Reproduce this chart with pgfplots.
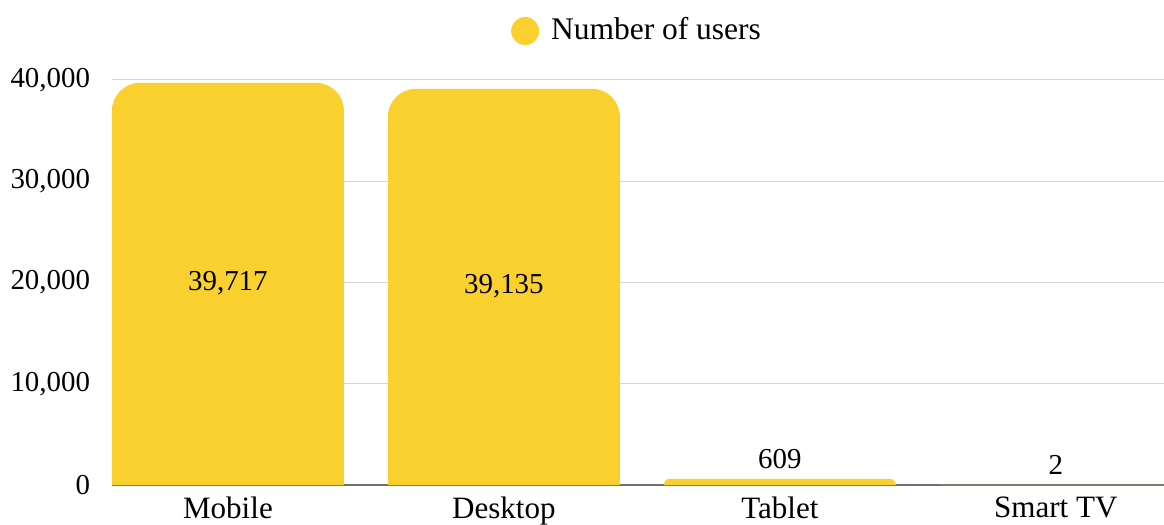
\documentclass[border=0pt]{standalone}
\usepackage{fontspec}
\setmainfont{Liberation Serif}
\usepackage{pgfplots}
\pgfplotsset{compat=1.18}
\definecolor{baryellow}{HTML}{F9D02D}
\definecolor{gridgray}{HTML}{D6D6D6}
\definecolor{axisgray}{HTML}{6F6F6F}

% bars are drawn by \pgfpathrectangle{corner}{size}: give narrow ones rounded tops
\makeatletter
\newdimen\rbxa \newdimen\rbya \newdimen\rbxb \newdimen\rbyb
\newdimen\rbr \newdimen\rbk \newdimen\rbt
\let\origpathrectangle\pgfpathrectangle
\def\roundtoprect#1#2{%
  \pgf@process{#1}\rbxa=\pgf@x \rbya=\pgf@y
  \pgf@process{#2}\rbxb=\pgf@x \rbyb=\pgf@y
  \rbt=\rbxb \ifdim\rbt<0pt \rbt=-\rbt \fi
  \ifdim\rbt<150bp
    \advance\rbxb by \rbxa \advance\rbyb by \rbya
    \ifdim\rbxa>\rbxb \rbt=\rbxa \rbxa=\rbxb \rbxb=\rbt \fi
    \ifdim\rbya>\rbyb \rbt=\rbya \rbya=\rbyb \rbyb=\rbt \fi
    \rbr=14bp
    \rbt=\rbyb \advance\rbt by -\rbya
    \ifdim\rbt<\rbr \rbr=\rbt \fi
    \rbk=0.4477\rbr
    \pgfpathmoveto{\pgfqpoint{\rbxa}{\rbya}}%
    \pgfpathlineto{\pgfqpoint{\rbxa}{\dimexpr\rbyb-\rbr\relax}}%
    \pgfpathcurveto{\pgfqpoint{\rbxa}{\dimexpr\rbyb-\rbk\relax}}%
      {\pgfqpoint{\dimexpr\rbxa+\rbk\relax}{\rbyb}}%
      {\pgfqpoint{\dimexpr\rbxa+\rbr\relax}{\rbyb}}%
    \pgfpathlineto{\pgfqpoint{\dimexpr\rbxb-\rbr\relax}{\rbyb}}%
    \pgfpathcurveto{\pgfqpoint{\dimexpr\rbxb-\rbk\relax}{\rbyb}}%
      {\pgfqpoint{\rbxb}{\dimexpr\rbyb-\rbk\relax}}%
      {\pgfqpoint{\rbxb}{\dimexpr\rbyb-\rbr\relax}}%
    \pgfpathlineto{\pgfqpoint{\rbxb}{\rbya}}%
    \pgfpathclose
  \else
    \origpathrectangle{#1}{#2}%
  \fi
}
\makeatother
\def\intpart#1.#2\relax{#1}

\tikzset{
  userbar/.style={ybar, bar width=116bp, bar shift=0pt, fill=baryellow, draw=none},
}

\begin{document}
\fontsize{14.5}{17}\selectfont
\begin{tikzpicture}
\let\pgfpathrectangle\roundtoprect
\begin{axis}[
  at={(56bp,20bp)}, anchor=south west,
  scale only axis, width=526bp, height=202.5bp,
  clip=false,
  xmin=-0.42, xmax=3.392, ymin=0, ymax=40000,
  xtick={0,1,2,3}, xticklabels={Mobile,Desktop,Tablet,Smart TV},
  ytick={0,10000,20000,30000,40000},
  scaled y ticks=false,
  /pgf/number format/1000 sep={,},
  /pgf/number format/assume math mode=true,
  axis x line*=bottom, axis y line*=left,
  x axis line style={draw=axisgray, line width=0.6bp},
  y axis line style={draw=none},
  major tick length=0pt,
  ymajorgrids, grid style={gridgray, line width=0.5bp},
  yticklabel style={xshift=-6bp},
  xticklabel style={yshift=-1bp, font=\fontsize{15.6}{18}\selectfont},
  legend style={at={(0.5,1)}, anchor=center, yshift=24.5bp, draw=none, fill=none,
    column sep=4bp, font=\fontsize{15.8}{18}\selectfont},
  legend image code/.code={\fill[baryellow] (0bp,0bp) circle (7bp);},
]
% big bars: value printed at mid height of the bar
\addplot[userbar,
  visualization depends on={rawy \as \rawy},
  nodes near coords,
  every node near coord/.append style={anchor=center,
    yshift={-\the\dimexpr 0.00253125bp*\expandafter\intpart\rawy.\relax\relax}},
] coordinates {(0,39717) (1,39135)};
\addlegendentry{Number of users}
\addplot[userbar, forget plot, nodes near coords] coordinates {(2,609) (3,2)};
\end{axis}
\pgfresetboundingbox
\useasboundingbox (0,0) rectangle (582bp,262.5bp);
\end{tikzpicture}
\end{document}
